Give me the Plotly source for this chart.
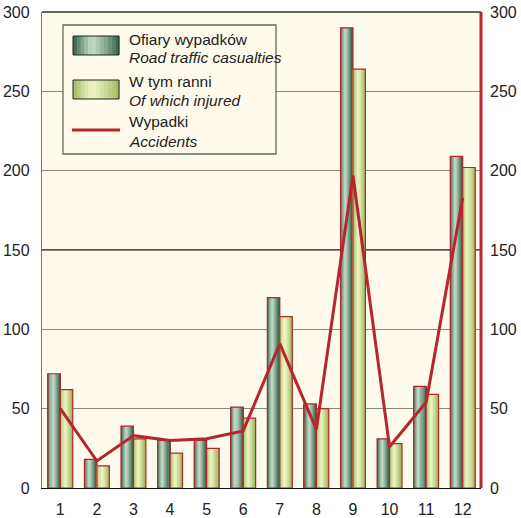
import plotly.graph_objects as go

# data
months = [1, 2, 3, 4, 5, 6, 7, 8, 9, 10, 11, 12]
month_labels = [str(m) for m in months]
casualties = [72, 18, 39, 30, 30, 51, 120, 53, 290, 31, 64, 209]
injured = [62, 14, 31, 22, 25, 44, 108, 50, 264, 28, 59, 202]
accidents = [50, 17, 33, 30, 31, 36, 91, 37, 197, 26, 54, 183]

W, H = 521, 518
L, R, T, B = 42, 40, 12, 30
PW, PH = W - L - R, H - T - B

BG = "#fffbec"
RED = "#b5262d"
FONT = "Liberation Sans, Arial, sans-serif"
N_STRIPES = 12


def mix(c1, c2, t):
    return "#%02x%02x%02x" % tuple(round(a + (b - a) * t) for a, b in zip(c1, c2))


def cylinder(edge, light, t):
    # highlight a bit left of the middle, darker edges
    peak = 0.42
    d = abs(t - peak) / (peak if t < peak else 1 - peak)
    return mix(light, edge, min(1, d ** 1.2))


DARK = ((0x30, 0x60, 0x45), (0xc4, 0xda, 0xc6))
LIGHT = ((0x9c, 0xb8, 0x5c), (0xee, 0xf3, 0xc2))

fig = go.Figure()


def striped_bars(values, offset, width, palette, name):
    step = width / N_STRIPES
    for k in range(N_STRIPES):
        fig.add_trace(go.Bar(
            x=months, y=values, offset=offset + k * step, width=step * 1.02,
            marker=dict(color=cylinder(*palette, (k + 0.5) / N_STRIPES), line=dict(width=0)),
            showlegend=False, hoverinfo="skip",
        ))
    fig.add_trace(go.Bar(
        x=months, y=values, offset=offset, width=width, name=name,
        marker=dict(color="rgba(0,0,0,0)", line=dict(color=RED, width=1.2)),
        showlegend=False,
    ))


striped_bars(casualties, -0.34, 0.34, DARK, "Ofiary wypadków")
striped_bars(injured, 0.0, 0.34, LIGHT, "W tym ranni")

fig.add_trace(go.Scatter(
    x=months, y=accidents, mode="lines", name="Wypadki",
    line=dict(color=RED, width=3), showlegend=False, yaxis="y2",
))


def px(x, y):
    return (x - L) / PW, (H - B - y) / PH


shapes = []
# darker gridline at 150 as in the reference
shapes.append(dict(type="line", xref="paper", yref="y", x0=0, x1=1, y0=150, y1=150,
                   line=dict(color="#1a1a1a", width=1.3), layer="between"))
# top frame and red right axis
shapes.append(dict(type="line", xref="paper", yref="paper", x0=0, x1=1, y0=1, y1=1,
                   line=dict(color="#333", width=1.3)))
shapes.append(dict(type="line", xref="paper", yref="paper", x0=1, x1=1, y0=0, y1=1,
                   line=dict(color=RED, width=3)))

# custom legend box
x0, y0 = px(63, 154)
x1, y1 = px(276, 25)
shapes.append(dict(type="rect", xref="paper", yref="paper", x0=x0, y0=y0, x1=x1, y1=y1,
                   fillcolor=BG, line=dict(color="#666", width=1.3)))


def swatch(top, palette):
    sx0, sx1 = 73, 119
    step = (sx1 - sx0) / N_STRIPES
    for k in range(N_STRIPES):
        a0, b0 = px(sx0 + k * step, top + 19)
        a1, b1 = px(sx0 + (k + 1) * step + 0.3, top)
        shapes.append(dict(type="rect", xref="paper", yref="paper", x0=a0, y0=b0, x1=a1, y1=b1,
                           fillcolor=cylinder(*palette, (k + 0.5) / N_STRIPES), line=dict(width=0)))
    a0, b0 = px(sx0, top + 19)
    a1, b1 = px(sx1, top)
    shapes.append(dict(type="rect", xref="paper", yref="paper", x0=a0, y0=b0, x1=a1, y1=b1,
                       line=dict(color="#222", width=1)))


swatch(36, DARK)
swatch(80, LIGHT)
a0, b = px(72, 130)
a1, _ = px(120, 130)
shapes.append(dict(type="line", xref="paper", yref="paper", x0=a0, x1=a1, y0=b, y1=b,
                   line=dict(color=RED, width=3)))

legend_text = [
    ("Ofiary wypadków", 39, False),
    ("Road traffic casualties", 58, True),
    ("W tym ranni", 81, False),
    ("Of which injured", 100, True),
    ("Wypadki", 122, False),
    ("Accidents", 141, True),
]
annotations = []
for text, ty, italic in legend_text:
    ax, ay = px(127, ty)
    annotations.append(dict(
        xref="paper", yref="paper", x=ax, y=ay, xanchor="left", yanchor="middle",
        text=f"<i>{text}</i>" if italic else text, showarrow=False,
        font=dict(family=FONT, size=15.5, color="#222"),
    ))

fig.update_layout(
    width=W, height=H,
    margin=dict(l=L, r=R, t=T, b=B),
    paper_bgcolor="white", plot_bgcolor=BG,
    barmode="overlay",
    showlegend=False,
    font=dict(family=FONT, size=16, color="#222"),
    xaxis=dict(range=[0.5, 12.5], tickvals=months, ticktext=month_labels,
               showgrid=False, zeroline=False, showline=True, linecolor="#111", linewidth=1.3,
               ticks="", ticklabelstandoff=7, automargin=False),
    yaxis=dict(range=[0, 300], tickvals=[0, 50, 100, 150, 200, 250, 300],
               showgrid=True, gridcolor="#8c877c", gridwidth=1.2, zeroline=False,
               showline=True, linecolor="#7a766c", linewidth=1.3, ticks="",
               ticklabelstandoff=8, automargin=False),
    yaxis2=dict(range=[0, 300], tickvals=[0, 50, 100, 150, 200, 250, 300],
                overlaying="y", side="right", showgrid=False, zeroline=False,
                showline=False, ticks="", ticklabelstandoff=8, automargin=False),
    shapes=shapes,
    annotations=annotations,
)

# the page's default body margin would push the figure off the window
fig.write_html("out.html", config={"displayModeBar": False},
               post_script="document.body.style.margin='0';")
